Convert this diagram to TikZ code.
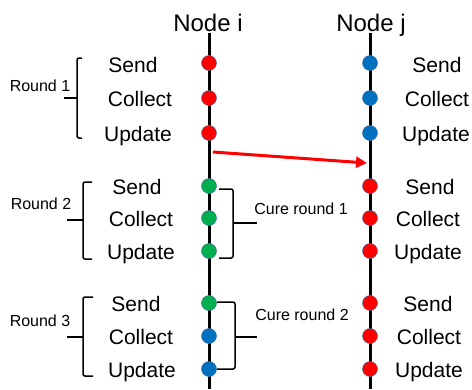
\documentclass[tikz,border=0pt]{standalone}
\usepackage{fontspec}
\setmainfont{Liberation Sans}
\usetikzlibrary{arrows.meta}
\definecolor{dred}{HTML}{FF0000}
\definecolor{dblue}{HTML}{0070C0}
\definecolor{dgreen}{HTML}{00B050}
\definecolor{dedge}{HTML}{4A6E96}
\begin{document}
\begin{tikzpicture}[x=1pt,y=-1pt,
  timeline/.style={line width=3pt,black},
  dot/.style={circle,minimum size=15pt,inner sep=0pt,draw=dedge,line width=0.5pt,fill=#1},
  step label/.style={anchor=base,inner sep=0pt,font=\fontsize{21}{24}\selectfont},
  titlelabel/.style={anchor=base,inner sep=0pt,font=\fontsize{24}{28}\selectfont},
  roundlabel/.style={anchor=base,inner sep=0pt,font=\fontsize{16}{19}\selectfont},
  brk/.style={line width=1.5pt,black,rounded corners=2pt},
  msg/.style={line width=3pt,dred,-{Triangle[length=11pt,width=11pt]}}]
\useasboundingbox (0,0) rectangle (472,389);
% timelines
\coordinate (itop) at (209,33); \coordinate (ibot) at (209,389);
\coordinate (jtop) at (370,33); \coordinate (jbot) at (370,389);
\draw[timeline] (itop) -- (ibot);
\draw[timeline] (jtop) -- (jbot);
\node[titlelabel] (ti) at (208,31) {Node i};
\node[titlelabel] (tj) at (371,31) {Node j};
% dots node i
\node[dot=dred]   (i1) at (209,63) {};
\node[dot=dred]   (i2) at (209,98) {};
\node[dot=dred]   (i3) at (209,133) {};
\node[dot=dgreen] (i4) at (209,186) {};
\node[dot=dgreen] (i5) at (209,218) {};
\node[dot=dgreen] (i6) at (209,251) {};
\node[dot=dgreen] (i7) at (209,303) {};
\node[dot=dblue]  (i8) at (209,336) {};
\node[dot=dblue]  (i9) at (209,369) {};
% dots node j
\node[dot=dblue] (j1) at (370,63) {};
\node[dot=dblue] (j2) at (370,98) {};
\node[dot=dblue] (j3) at (370,133) {};
\node[dot=dred]  (j4) at (370,186) {};
\node[dot=dred]  (j5) at (370,218) {};
\node[dot=dred]  (j6) at (370,251) {};
\node[dot=dred]  (j7) at (370,303) {};
\node[dot=dred]  (j8) at (370,336) {};
\node[dot=dred]  (j9) at (370,369) {};
% left labels
\node[step label] (ls1) at (133,72) {Send};
\node[step label] (lc1) at (140,106) {Collect};
\node[step label] (lu1) at (138,141) {Update};
\node[step label] (ls2) at (137,194) {Send};
\node[step label] (lc2) at (141,226) {Collect};
\node[step label] (lu2) at (141,259) {Update};
\node[step label] (ls3) at (136,311) {Send};
\node[step label] (lc3) at (141,344) {Collect};
\node[step label] (lu3) at (142,377) {Update};
% right labels
\node[step label] (rs1) at (437,72) {Send};
\node[step label] (rc1) at (437,106) {Collect};
\node[step label] (ru1) at (436,141) {Update};
\node[step label] (rs2) at (430,194) {Send};
\node[step label] (rc2) at (428,226) {Collect};
\node[step label] (ru2) at (428,259) {Update};
\node[step label] (rs3) at (428,311) {Send};
\node[step label] (rc3) at (429,344) {Collect};
\node[step label] (ru3) at (429,377) {Update};
% round labels and brackets
\node[roundlabel] (r1) at (40,91) {Round 1};
\draw[brk] (82,58) -- (77,58) -- (77,138) -- (82,138);
\draw[line width=1.5pt] (64,98) -- (77,98);
\node[roundlabel] (r2) at (41,209) {Round 2};
\draw[brk] (92,182) -- (83,182) -- (83,259) -- (92,259);
\draw[line width=1.5pt] (67,220) -- (83,220);
\node[roundlabel] (r3) at (40,326) {Round 3};
\draw[brk] (93,297) -- (83,297) -- (83,376) -- (93,376);
\draw[line width=1.5pt] (67,337) -- (83,337);
% cure brackets
\node[roundlabel] (c1) at (301,214) {Cure round 1};
\draw[brk] (219,189) -- (233,189) -- (233,258) -- (219,258);
\draw[line width=1.5pt] (233,223) -- (257,223);
\node[roundlabel] (c2) at (302,320) {Cure round 2};
\draw[brk] (217,302) -- (235,302) -- (235,369) -- (217,369);
\draw[line width=1.5pt] (235,337) -- (257,337);
% message arrow
\coordinate (ms) at (213,152);
\coordinate (me) at (367,163);
\draw[msg] (ms) -- (me);
\end{tikzpicture}
\end{document}
